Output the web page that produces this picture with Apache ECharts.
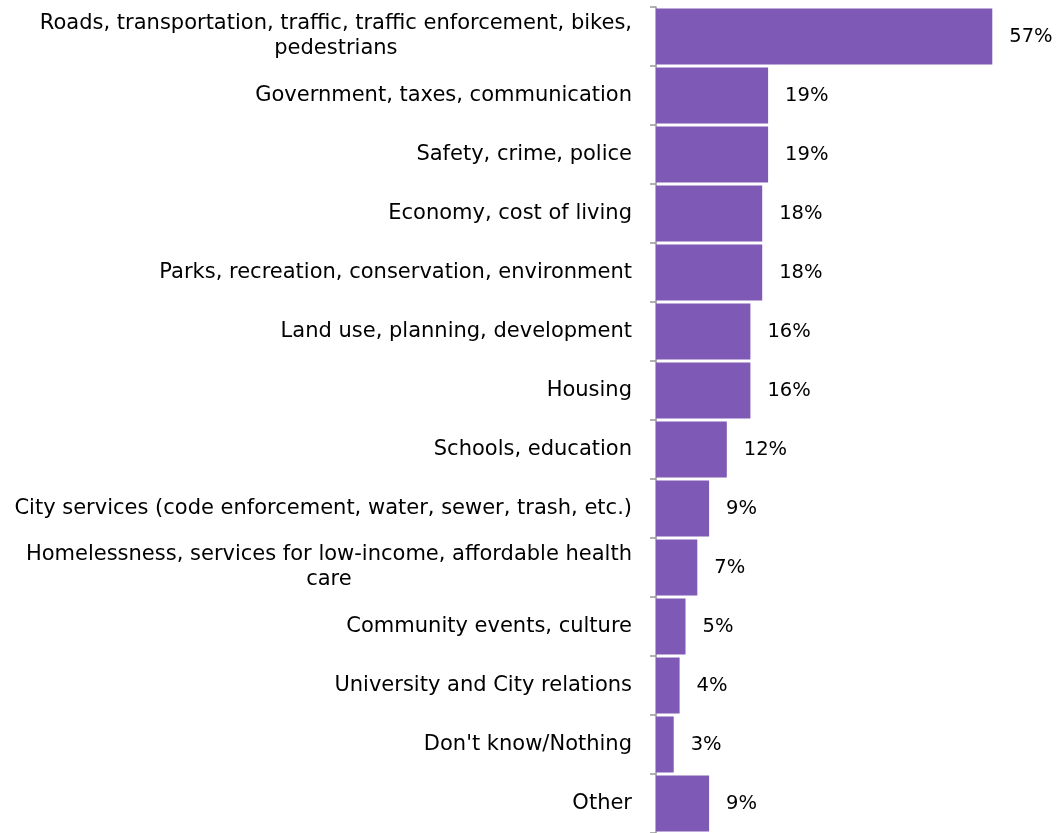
<!DOCTYPE html>
<html><head><meta charset="utf-8">
<script src="https://cdn.jsdelivr.net/npm/echarts@6/dist/echarts.min.js"></script>
<style>html,body{margin:0;padding:0;background:#fff}#c{width:1058px;height:833px}</style>
</head><body><div id="c"></div>
<script>
const categories = [
  "Roads, transportation, traffic, traffic enforcement, bikes,\npedestrians",
  "Government, taxes, communication",
  "Safety, crime, police",
  "Economy, cost of living",
  "Parks, recreation, conservation, environment",
  "Land use, planning, development",
  "Housing",
  "Schools, education",
  "City services (code enforcement, water, sewer, trash, etc.)",
  "Homelessness, services for low-income, affordable health\ncare",
  "Community events, culture",
  "University and City relations",
  "Don't know/Nothing",
  "Other"
];
const values = [57, 19, 19, 18, 18, 16, 16, 12, 9, 7, 5, 4, 3, 9];

const FONT = "'DejaVu Sans', sans-serif";
const chart = echarts.init(document.getElementById('c'));
chart.setOption({
  animation: false,
  grid: { left: 656, right: 48, top: 7, bottom: -4, containLabel: false },
  xAxis: { type: 'value', min: 0, max: 60, show: false },
  yAxis: {
    type: 'category', inverse: true, data: categories,
    axisLine: { show: true, lineStyle: { color: '#999', width: 1.5 } },
    axisTick: { show: true, length: 6, lineStyle: { color: '#999', width: 1.5 } },
    axisLabel: {
      margin: 24, fontFamily: FONT, fontSize: 21, color: '#000', lineHeight: 25,
      formatter: v => v.split('\n').map(s => '{c|' + s + '}').join('\n'),
      rich: { c: { align: 'center', fontFamily: FONT, fontSize: 21, color: '#000', lineHeight: 25 } }
    }
  },
  series: [{
    type: 'bar', data: values, barCategoryGap: '5%',
    itemStyle: { color: '#7E59B6' },
    label: { show: true, position: 'right', distance: 17, formatter: '{c}%', fontFamily: FONT, fontSize: 19.5, color: '#000' }
  }]
});
</script></body></html>
